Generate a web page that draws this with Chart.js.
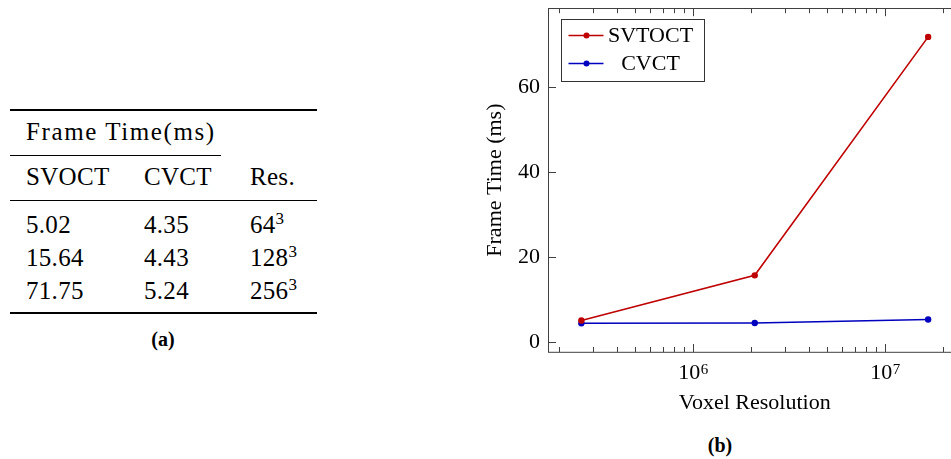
<!DOCTYPE html>
<html>
<head>
<meta charset="utf-8">
<script src="https://cdn.jsdelivr.net/npm/chart.js@4"></script>
<style>
  html, body { margin: 0; padding: 0; overflow: hidden; background: #fff; width: 951px; height: 459px; }
  body { position: relative; font-family: "Liberation Serif", serif; color: #000; }
  #chartBox { position: absolute; left: 470px; top: -13px; }
  .rule { position: absolute; left: 10px; width: 307px; background: #000; }
  .cell { position: absolute; font-size: 25px; line-height: 25px; white-space: nowrap; letter-spacing: 0.3px; }
  .cell sup { font-size: 17px; line-height: 0; vertical-align: 9px; }
  .caption { position: absolute; width: 100px; text-align: center; font-weight: bold; font-size: 20px; line-height: 20px; }
</style>
</head>
<body>
<div id="table"></div>
<div class="caption" style="left:113px; top:329px;">(a)</div>
<div class="caption" style="left:670px; top:435px;">(b)</div>
<div id="chartBox"><canvas id="frameChart" width="500" height="433"></canvas></div>

<script>
// data
const resolutions = ["64", "128", "256"];
const voxelCounts = [262144, 2097152, 16777216];
const svoctTimes = [5.02, 15.64, 71.75];
const cvctTimes = [4.35, 4.43, 5.24];
const seriesNames = ["SVTOCT", "CVCT"];
const yTicks = [0, 20, 40, 60];
const xDecades = [5, 6, 7];

// table (a)
const table = document.getElementById("table");
function addRule(top, h, width) {
  const d = document.createElement("div");
  d.className = "rule";
  d.style.top = top + "px";
  d.style.height = h + "px";
  if (width) d.style.width = width + "px";
  table.appendChild(d);
}
function addCell(html, left, baseline, spacing) {
  const d = document.createElement("div");
  d.className = "cell";
  d.style.left = left + "px";
  d.style.top = (baseline - 21) + "px";
  if (spacing) d.style.letterSpacing = spacing + "px";
  d.innerHTML = html;
  table.appendChild(d);
}
const colX = [26, 144, 250];
addRule(109, 2);
addCell("Frame Time(ms)", colX[0], 140, 1.6);
addRule(155, 1, 211);
addCell("SVOCT", colX[0], 185);
addCell("CVCT", colX[1], 185);
addCell("Res.", colX[2], 185);
addRule(200, 1);
const rowBase = [232.5, 265.5, 298.5];
resolutions.forEach((r, i) => {
  addCell(svoctTimes[i].toFixed(2), colX[0], rowBase[i]);
  addCell(cvctTimes[i].toFixed(2), colX[1], rowBase[i]);
  addCell(r + "<sup>3</sup>", colX[2], rowBase[i]);
});
addRule(312, 2);

// chart (b)
Chart.defaults.font.family = '"Liberation Serif", serif';
Chart.defaults.color = "#000";

const axisColor = "#404040";
const mainFont = '22px "Liberation Serif", serif';
const expFont = '15px "Liberation Serif", serif';

// pgfplots style box with inward ticks, 10^n labels and the legend
const frameTicks = {
  id: "frameTicks",
  afterDatasetsDraw(chart) {
    const { ctx, chartArea: a, scales: { x, y } } = chart;
    ctx.save();
    ctx.strokeStyle = axisColor;
    ctx.lineWidth = 1;
    ctx.strokeRect(Math.round(a.left) + 0.5, Math.round(a.top) + 0.5, a.right - a.left, a.bottom - a.top);
    ctx.beginPath();
    xDecades.forEach((e) => {
      for (let m = 1; m <= 9; m++) {
        const v = m * Math.pow(10, e);
        if (v < x.min || v > x.max) continue;
        const px = Math.round(x.getPixelForValue(v)) + 0.5;
        const len = m === 1 ? 8 : 5;
        ctx.moveTo(px, a.bottom); ctx.lineTo(px, a.bottom - len);
        ctx.moveTo(px, a.top); ctx.lineTo(px, a.top + len);
      }
    });
    yTicks.forEach((v) => {
      const py = Math.round(y.getPixelForValue(v)) + 0.5;
      ctx.moveTo(a.left, py); ctx.lineTo(a.left + 8, py);
      ctx.moveTo(a.right, py); ctx.lineTo(a.right - 8, py);
    });
    ctx.stroke();

    // x tick labels as 10 with a raised exponent
    ctx.fillStyle = "#000";
    ctx.textAlign = "left";
    ctx.textBaseline = "alphabetic";
    xDecades.forEach((e) => {
      const v = Math.pow(10, e);
      if (v < x.min || v > x.max) return;
      const px = x.getPixelForValue(v);
      ctx.font = mainFont;
      const w1 = ctx.measureText("10").width;
      ctx.font = expFont;
      const w2 = ctx.measureText(String(e)).width;
      const left = px - (w1 + w2) / 2;
      ctx.font = mainFont;
      ctx.fillText("10", left, a.bottom + 27);
      ctx.font = expFont;
      ctx.fillText(String(e), left + w1 + 0.5, a.bottom + 22);
    });

    // legend box, top left inside the plot
    const bx = Math.round(a.left) + 13.5, by = Math.round(a.top) + 11.5;
    ctx.fillStyle = "#fff";
    ctx.fillRect(bx, by, 143, 62);
    ctx.strokeStyle = "#333";
    ctx.strokeRect(bx, by, 143, 62);
    chart.data.datasets.forEach((ds, i) => {
      const cy = by + 16 + i * 28;
      ctx.strokeStyle = ds.borderColor;
      ctx.lineWidth = 1.5;
      ctx.beginPath();
      ctx.moveTo(bx + 7, cy); ctx.lineTo(bx + 42, cy);
      ctx.stroke();
      ctx.fillStyle = ds.borderColor;
      ctx.beginPath();
      ctx.arc(bx + 25, cy, 3, 0, Math.PI * 2);
      ctx.fill();
      ctx.fillStyle = "#000";
      ctx.font = mainFont;
      ctx.textAlign = "center";
      ctx.textBaseline = "middle";
      ctx.fillText(ds.label, bx + 89, cy + 1);
    });
    ctx.restore();
  },
};

const ctx = document.getElementById("frameChart").getContext("2d");
new Chart(ctx, {
  type: "line",
  data: {
    datasets: [
      {
        label: seriesNames[0],
        data: voxelCounts.map((v, i) => ({ x: v, y: svoctTimes[i] })),
        borderColor: "rgb(191,0,0)",
        backgroundColor: "rgb(191,0,0)",
        borderWidth: 1.6,
        pointRadius: 3.2,
        pointBorderWidth: 0,
        tension: 0,
      },
      {
        label: seriesNames[1],
        data: voxelCounts.map((v, i) => ({ x: v, y: cvctTimes[i] })),
        borderColor: "rgb(0,0,191)",
        backgroundColor: "rgb(0,0,191)",
        borderWidth: 1.6,
        pointRadius: 3.2,
        pointBorderWidth: 0,
        tension: 0,
      },
    ],
  },
  options: {
    responsive: false,
    animation: false,
    layout: { padding: { top: 0, right: 8.5, bottom: 0, left: 0 } },
    plugins: {
      legend: { display: false },
      tooltip: { enabled: false },
    },
    scales: {
      x: {
        type: "logarithmic",
        min: 1.757e5,
        max: 2.503e7,
        grid: { display: false, drawTicks: false },
        border: { display: false },
        ticks: { display: false },
        title: {
          display: true,
          text: "Voxel Resolution",
          font: { size: 22 },
          padding: { top: 4, bottom: 4 },
        },
        afterFit: (s) => { s.height = 68; },
      },
      y: {
        min: -2.4,
        max: 78.5,
        grid: { display: false, drawTicks: false },
        border: { display: false },
        ticks: {
          stepSize: 20,
          includeBounds: false,
          padding: 8,
          font: { size: 22 },
          callback: (v) => (yTicks.includes(v) ? String(v) : ""),
        },
        title: {
          display: true,
          text: "Frame Time (ms)",
          font: { size: 22 },
          padding: { top: 12, bottom: 4 },
        },
        afterFit: (s) => { s.width = 78; },
      },
    },
  },
  plugins: [frameTicks],
});
</script>
</body>
</html>
